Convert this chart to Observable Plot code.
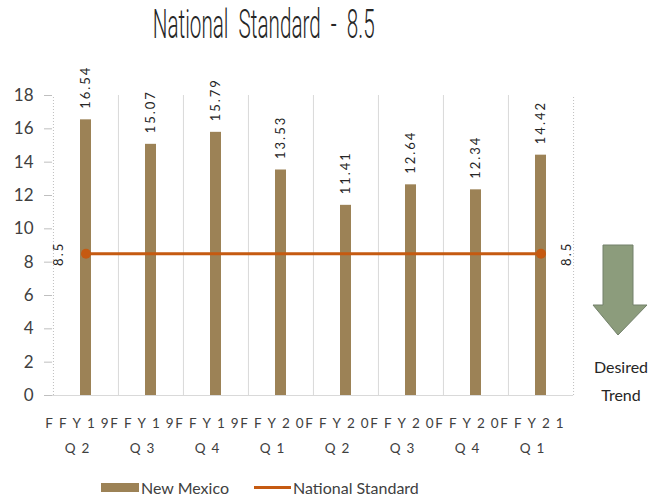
<!DOCTYPE html>
<html>
<head>
<meta charset="utf-8">
<script src="https://cdn.jsdelivr.net/npm/d3@7"></script>
<script src="https://cdn.jsdelivr.net/npm/@observablehq/plot@0.6"></script>
<style>
  body { margin: 0; background: #fff; }
  #wrap { position: relative; width: 659px; height: 498px; overflow: hidden; font-family: Lato, "Noto Sans", sans-serif; }
  #title { position: absolute; top: 1px; left: 0; width: 528px; text-align: center; font-family: Roboto, "DejaVu Sans", sans-serif; font-weight: 300; font-size: 40px; color: #262626; }
  #title span { display: inline-block; transform-origin: center; white-space: nowrap; }
  #plot { position: absolute; top: 0; left: 0; }
  #arrow { position: absolute; left: 0; top: 0; }
  #trend { position: absolute; left: 589px; top: 353px; width: 64px; text-align: center; font-size: 16px; line-height: 28px; color: #262626; }
  #legend { position: absolute; top: 476px; left: 0; width: 659px; font-size: 16px; color: #404040; }
  .lg { position: absolute; top: 0; display: flex; align-items: center; height: 22px; }
  .sw-bar { width: 38px; height: 9px; background: #9c8256; margin-right: 2px; }
  .sw-line { width: 37px; height: 3px; background: #c55a11; margin-right: 2px; }
</style>
</head>
<body>
<div id="wrap">
  <div id="title"><span id="tspan">National&nbsp; Standard&nbsp; -&nbsp; 8.5</span></div>
  <div id="plot"></div>
  <svg id="arrow" width="659" height="498"></svg>
  <div id="trend">Desired<br>Trend</div>
  <div id="legend">
    <div class="lg" style="left:101px"><div class="sw-bar"></div>New Mexico</div>
    <div class="lg" style="left:254px"><div class="sw-line"></div>National Standard</div>
  </div>
</div>
<script>
const quarters = ["FFY19\nQ2", "FFY19\nQ3", "FFY19\nQ4", "FFY20\nQ1", "FFY20\nQ2", "FFY20\nQ3", "FFY20\nQ4", "FFY21\nQ1"];
const newMexico = [16.54, 15.07, 15.79, 13.53, 11.41, 12.64, 12.34, 14.42];
const nationalStandard = [8.5, 8.5, 8.5, 8.5, 8.5, 8.5, 8.5, 8.5];
const yTicks = [0, 2, 4, 6, 8, 10, 12, 14, 16, 18];

const data = quarters.map((q, i) => ({q, nm: newMexico[i], ns: nationalStandard[i]}));
const ends = [data[0], data[data.length - 1]];

const barColor = "#9c8256";
const lineColor = "#c55a11";
const half = (659 - 52 - 86) / quarters.length / 2;

// condensed title like the original narrow display face
const tspan = document.getElementById("tspan");
const natural = tspan.getBoundingClientRect().width;
tspan.style.transform = `scaleX(${222 / natural})`;

const chart = Plot.plot({
  width: 659,
  height: 470,
  marginTop: 95,
  marginBottom: 75,
  marginLeft: 52,
  marginRight: 86,
  style: {fontFamily: "Lato, 'Noto Sans', sans-serif", background: "transparent"},
  x: {domain: quarters, padding: 0, axis: null},
  y: {domain: [0, 18], axis: null},
  marks: [
    Plot.ruleX(quarters.slice(1), {x: d => d, dx: -half, y1: 0, y2: 18, stroke: "#d9d9d9", strokeWidth: 1}),
    Plot.ruleX([quarters[quarters.length - 1]], {x: d => d, dx: half, y1: 0, y2: 18, stroke: "#bfbfbf", strokeDasharray: "1,2"}),
    Plot.ruleX([quarters[0]], {x: d => d, dx: -half, y1: 0, y2: 18, stroke: "#bfbfbf", strokeDasharray: "1,2"}),
    Plot.barY(data, {x: "q", y: "nm", fill: barColor, insetLeft: 27, insetRight: 27}),
    Plot.ruleY([0], {stroke: "#d9d9d9"}),
    Plot.axisY({ticks: yTicks, tickSize: 8, tickPadding: 11, fontSize: 17, stroke: "#bfbfbf", color: "#404040", label: null}),
    Plot.axisX({tickSize: 0, tickPadding: 15, fontSize: 13.5, lineHeight: 1.85, color: "#404040", label: null, dx: -6}),
    Plot.line(data, {x: "q", y: "ns", stroke: lineColor, strokeWidth: 3}),
    Plot.dot(ends, {x: "q", y: "ns", r: 5, fill: lineColor}),
    Plot.text(data, {x: "q", y: "nm", text: d => d.nm.toFixed(2), rotate: -90, textAnchor: "start", dy: -11, fontSize: 13, fill: "#262626", className: "vlab"}),
    Plot.text([ends[0]], {x: "q", y: "ns", text: d => String(d.ns), rotate: -90, dx: -27, fontSize: 13, fill: "#262626", className: "vlab"}),
    Plot.text([ends[1]], {x: "q", y: "ns", text: d => String(d.ns), rotate: -90, dx: 26, fontSize: 13, fill: "#262626", className: "vlab"})
  ]
});
document.getElementById("plot").appendChild(chart);

const style = document.createElement("style");
style.textContent = `
  #plot g[aria-label="x-axis tick label"] text { letter-spacing: 6px; }
  #plot .vlab text, #plot g.vlab text { letter-spacing: 2px; }
`;
document.head.appendChild(style);

// Desired-trend arrow (decoration)
const svg = d3.select("#arrow");
svg.append("path")
  .attr("d", "M603,245 L633,245 L633,305 L647,305 L618,335 L593,305 L603,305 Z")
  .attr("fill", "#8c9c7c")
  .attr("stroke", "#72806a")
  .attr("stroke-width", 1);
</script>
</body>
</html>
